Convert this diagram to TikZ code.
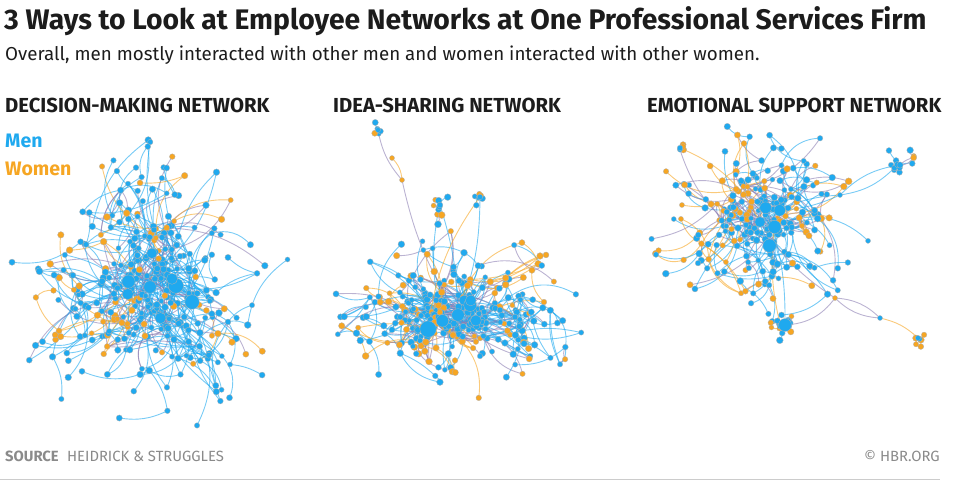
\documentclass[tikz,border=0pt]{standalone}
\usepackage{fontspec}
\setmainfont{Fira Sans}
\usetikzlibrary{positioning}

\definecolor{menblue}{HTML}{1FA9EF}
\definecolor{womenorange}{HTML}{F6A623}
\definecolor{mixpurple}{HTML}{8E80B4}
\definecolor{headink}{HTML}{1C1C1C}
\definecolor{footgray}{HTML}{8A8A8A}

\tikzset{
  man/.style={circle, fill=menblue, draw=black!30, line width=0.3pt, inner sep=0pt},
  woman/.style={circle, fill=womenorange, draw=black!30, line width=0.3pt, inner sep=0pt},
  tie/.style={line width=0.9pt, opacity=0.6},
  heading/.style={anchor=base west, inner sep=0pt, text=headink, font=\bfseries\fontsize{20.3}{22}\selectfont},
  footnote/.style={inner sep=0pt, text=footgray, font=\fontsize{14.8}{16}\selectfont},
}

% a network spreads round (\cx,\cy); it reads \sx \sy \rad \women \hubs
\newcommand\grownet[2]{% #1 name, #2 people
  \expandafter\xdef\csname #1x0\endcsname{\cx}%
  \expandafter\xdef\csname #1y0\endcsname{\cy}%
  \expandafter\xdef\csname #1g0\endcsname{0}%
  \expandafter\xdef\csname #1p0\endcsname{0}%
  \coordinate (#1-0) at (\cx,\cy);
  \foreach \i in {1,...,#2} {
    \pgfmathtruncatemacro\last{\i-1}
    \pgfmathsetmacro\r{\i<\hubs ? \rad*(0.12+0.2*rnd) : \rad*min(1,(0.1+0.9*\i/#2)*(0.5+0.65*rnd))}
    \pgfmathsetmacro\ang{rnd*360}
    \pgfmathsetmacro\nx{\cx+\sx*\r*cos(\ang)}
    \pgfmathsetmacro\ny{\cy+\sy*\r*sin(\ang)}
    % the nearest of a few earlier people becomes the parent
    \gdef\best{0}\gdef\bestd{100}
    \foreach \t in {1,...,14} {
      \pgfmathrandominteger{\cand}{0}{\last}
      \edef\qx{\csname #1x\cand\endcsname}
      \edef\qy{\csname #1y\cand\endcsname}
      \pgfmathsetmacro\dd{((\qx-\nx)/100)^2+((\qy-\ny)/100)^2}
      \pgfmathtruncatemacro\better{\dd<\bestd}
      \ifnum\better=1 \xdef\best{\cand}\xdef\bestd{\dd}\fi
    }
    \edef\p{\best}
    \edef\pg{\csname #1g\p\endcsname}
    \pgfmathtruncatemacro\g{rnd<0.5 ? \pg : (rnd<\women ? 1 : 0)}
    \expandafter\xdef\csname #1x\i\endcsname{\nx}
    \expandafter\xdef\csname #1y\i\endcsname{\ny}
    \expandafter\xdef\csname #1g\i\endcsname{\g}
    \expandafter\xdef\csname #1p\i\endcsname{\p}
    \coordinate (#1-\i) at (\nx,\ny);
  }
}

\newcommand\linktie[3]{% #1 name, #2 and #3 the two people
  \pgfmathtruncatemacro\s{\csname #1g#2\endcsname+\csname #1g#3\endcsname}%
  \pgfmathsetmacro\bend{10+rnd*25}%
  \edef\col{\ifcase\s menblue\or mixpurple\else womenorange\fi}%
  \draw[tie, draw=\col] (#1-#2) to[bend left=\bend] (#1-#3);
}

\newcommand\tienet[3]{% #1 name, #2 people, #3 extra ties
  \foreach \i in {1,...,#2} {
    \edef\p{\csname #1p\i\endcsname}
    \linktie{#1}{\p}{\i}
  }
  \foreach \k in {1,...,#3} {
    \pgfmathtruncatemacro\a{1+(#2-1)*rnd}
    \edef\pa{\csname #1p\a\endcsname}
    \edef\gpa{\csname #1p\pa\endcsname}
    \pgfmathtruncatemacro\c{#2*0.45*rnd}
    \pgfmathtruncatemacro\e{#2*0.45*rnd}
    \pgfmathsetmacro\coin{rnd}
    \pgfmathtruncatemacro\u{\coin<0.5 ? \a : \c}
    \pgfmathtruncatemacro\v{\coin<0.5 ? \gpa : \e}
    \linktie{#1}{\u}{\v}
  }
}

\newcommand\peoplenet[3]{% #1 name, #2 people, #3 hubs
  \foreach \i in {#2,...,0} {
    \edef\who{\ifnum\csname #1g\i\endcsname=1 woman\else man\fi}
    \pgfmathsetmacro\dia{\i<#3 ? 10+rnd*7 : 5+rnd*2}
    \node[\who, minimum size=\dia pt] (#1-n\i) at (#1-\i) {};
  }
}

\begin{document}
\begin{tikzpicture}[x=1pt, y=-1pt]
\useasboundingbox (0,0) rectangle (953,483);
\pgfmathsetseed{4127}

% title and legend
\node[anchor=base west, inner sep=0pt, text=headink, font=\bfseries\fontsize{28.3}{30}\selectfont] (title) at (4,29)
  {3 Ways to Look at Employee Networks at One Professional Services Firm};
\node[anchor=base west, inner sep=0pt, text=headink, font=\fontsize{18.75}{21}\selectfont] (subtitle) at (5,60)
  {Overall, men mostly interacted with other men and women interacted with other women.};
\node[heading] (dmhead) at (5,112) {DECISION-MAKING NETWORK};
\node[heading] (ishead) at (333,112) {IDEA-SHARING NETWORK};
\node[heading] (eshead) at (647,112) {EMOTIONAL SUPPORT NETWORK};
\node[anchor=base west, inner sep=0pt, text=menblue, font=\bfseries\fontsize{19.5}{21}\selectfont] (menkey) at (5,147) {Men};
\node[anchor=base west, inner sep=0pt, text=womenorange, font=\bfseries\fontsize{19.5}{21}\selectfont] (womenkey) at (5,175) {Women};

% decision-making network
\def\cx{150}\def\cy{287}\def\sx{1}\def\sy{1.05}\def\rad{140}\def\women{0.22}\def\hubs{8}
\grownet{dm}{340}
% idea-sharing network
\def\cx{458}\def\cy{315}\def\sx{1.5}\def\sy{1}\def\rad{84}\def\women{0.34}\def\hubs{7}
\grownet{is}{310}
\def\hubs{0}
\def\cx{378}\def\cy{130}\def\sx{1}\def\sy{1}\def\rad{8}\def\women{0.1}
\grownet{isa}{5}
\def\cx{440}\def\cy{205}\def\sx{0.8}\def\sy{1.4}\def\rad{14}\def\women{0.6}
\grownet{isb}{9}
\def\cx{480}\def\cy{197}\def\sx{1}\def\sy{1}\def\rad{9}\def\women{0.4}
\grownet{isc}{6}
% emotional support network
\def\cx{760}\def\cy{222}\def\sx{1.1}\def\sy{1}\def\rad{100}\def\women{0.22}\def\hubs{5}
\grownet{es}{250}
\def\hubs{0}
\def\cx{900}\def\cy{165}\def\sx{1.4}\def\sy{0.9}\def\rad{18}\def\women{0.15}
\grownet{esa}{12}
\def\cx{918}\def\cy{338}\def\sx{1}\def\sy{1}\def\rad{9}\def\women{0.5}
\grownet{esb}{6}
\def\cx{785}\def\cy{325}\def\sx{1.2}\def\sy{1}\def\rad{16}\def\women{0.3}
\grownet{esc}{16}
\def\cx{680}\def\cy{148}\def\sx{1}\def\sy{1}\def\rad{8}\def\women{0.6}
\grownet{esd}{4}

% ties
\tienet{dm}{340}{300}
\tienet{is}{310}{320}
\tienet{isa}{5}{2}
\tienet{isb}{9}{4}
\tienet{isc}{6}{3}
\tienet{es}{250}{170}
\tienet{esa}{12}{6}
\tienet{esb}{6}{2}
\tienet{esc}{16}{8}
\tienet{esd}{4}{1}

% long arms between clusters
\coordinate (isarm1) at (392,158);
\coordinate (isarm2) at (402,180);
\draw[tie, draw=mixpurple] (isa-0) to[bend right=15] (isarm2);
\draw[tie, draw=womenorange] (isarm1) to[bend left=20] (isarm2);
\draw[tie, draw=mixpurple] (isarm2) to[bend right=10] (is-0);
\draw[tie, draw=menblue] (isb-0) to[bend left=8] (is-0);
\draw[tie, draw=menblue] (isb-3) to[bend right=12] (is-1);
\draw[tie, draw=menblue] (isc-0) to[bend left=10] (is-0);
\draw[tie, draw=womenorange] (isc-2) to[bend right=14] (is-2);

\coordinate (esarm1) at (840,195);
\coordinate (esarm2) at (835,298);
\coordinate (esarm3) at (880,318);
\draw[tie, draw=menblue] (es-0) to[bend left=15] (esarm1);
\draw[tie, draw=menblue] (es-1) to[bend right=10] (esarm1);
\draw[tie, draw=menblue] (esarm1) to[bend left=18] (esa-0);
\draw[tie, draw=menblue] (esarm1) to[bend right=18] (esa-3);
\draw[tie, draw=mixpurple] (es-0) to[bend right=12] (esarm2);
\draw[tie, draw=mixpurple] (esarm2) to[bend left=20] (esarm3);
\draw[tie, draw=mixpurple] (esarm2) to[bend right=20] (esarm3);
\draw[tie, draw=womenorange] (esarm3) to[bend left=15] (esb-0);
\draw[tie, draw=mixpurple] (esarm2) to[bend left=25] (esc-0);
\draw[tie, draw=menblue] (es-2) to[bend left=10] (esc-0);
\draw[tie, draw=womenorange] (es-3) to[bend right=10] (esc-2);
\draw[tie, draw=womenorange] (esd-0) to[bend left=20] (es-0);
\draw[tie, draw=mixpurple] (esd-1) to[bend right=25] (es-4);

% people
\peoplenet{dm}{340}{8}
\peoplenet{is}{310}{7}
\peoplenet{isa}{5}{0}
\peoplenet{isb}{9}{0}
\peoplenet{isc}{6}{0}
\peoplenet{es}{250}{5}
\peoplenet{esa}{12}{0}
\peoplenet{esb}{6}{0}
\peoplenet{esc}{16}{1}
\peoplenet{esd}{4}{0}
\node[woman, minimum size=5pt] (isarmn1) at (isarm1) {};
\node[woman, minimum size=5pt] (isarmn2) at (isarm2) {};
\node[man, minimum size=5pt] (esarmn1) at (esarm1) {};
\node[woman, minimum size=5pt] (esarmn2) at (esarm2) {};
\node[man, minimum size=5pt] (esarmn3) at (esarm3) {};

% source line
\node[footnote, anchor=base west, font=\bfseries\fontsize{14.8}{16}\selectfont] (srclabel) at (5,461) {SOURCE};
\node[footnote, right=8pt of srclabel.base east, anchor=base west] (srcname) {HEIDRICK \& STRUGGLES};
\node[footnote, anchor=base east] (credit) at (940,461) {© HBR.ORG};
\draw[black!20, line width=0.8pt] (0,479) -- (940,479);
\end{tikzpicture}
\end{document}
